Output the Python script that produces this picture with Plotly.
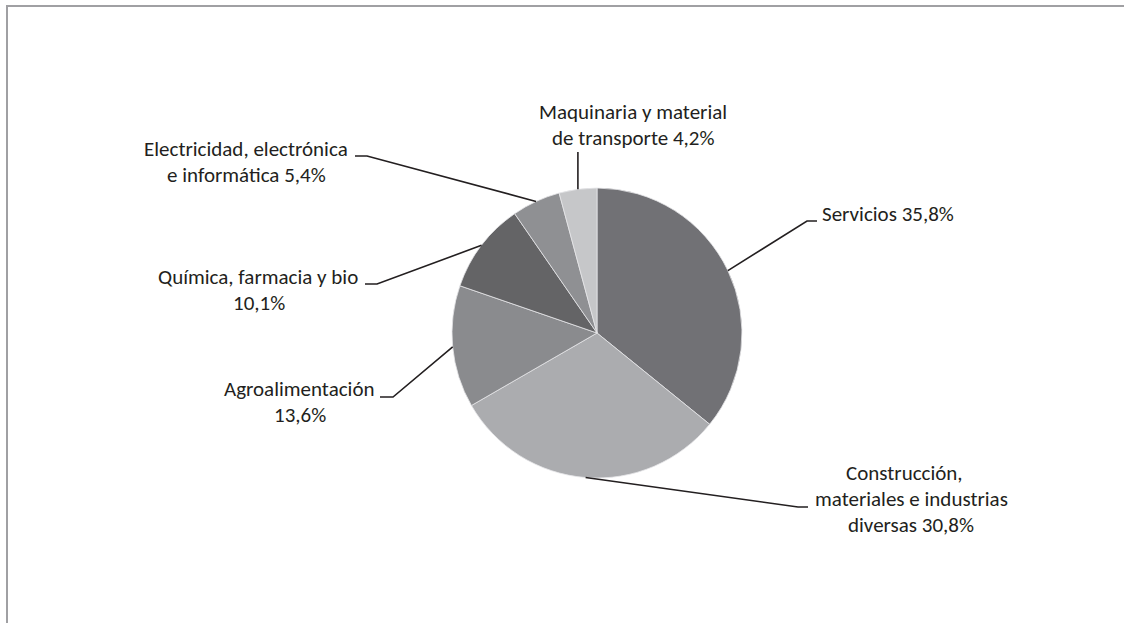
import math
import plotly.graph_objects as go

# Sector shares (%)
sectors = [
    "Servicios",
    "Construcción, materiales e industrias diversas",
    "Agroalimentación",
    "Química, farmacia y bio",
    "Electricidad, electrónica e informática",
    "Maquinaria y material de transporte",
]
shares = [35.8, 30.8, 13.6, 10.1, 5.4, 4.2]
label_lines = [
    ["Servicios {p}"],
    ["Construcción,", "materiales e industrias", "diversas {p}"],
    ["Agroalimentación", "{p}"],
    ["Química, farmacia y bio", "{p}"],
    ["Electricidad, electrónica", "e informática {p}"],
    ["Maquinaria y material", "de transporte {p}"],
]
colors = ["#717175", "#abacaf", "#8a8b8e", "#646466", "#8f9093", "#c6c7c9"]

W, H = 1124, 623
CX, CY, R = 597, 333, 145  # pie centre and radius in pixels
LINE_H = 26                # baseline-to-baseline spacing
FONT = "Calibri, Carlito, Lato, sans-serif"
FONT_SIZE = 21
TEXT_COLOR = "#231f20"

# label layout: (line centre xs, first baseline y, leader elbow x, elbow y, tail x)
label_layout = [
    ([888], 222, 807, 221, 817),
    ([904, 911, 911], 481, 798, 507, 808),
    ([299, 300], 397, 393, 397, 380),
    ([258, 259], 285, 377, 284, 365),
    ([246, 246], 157, 367, 156, 355),
    ([633, 633], 120, None, 152, None),
]


def px(x):
    return x / W


def py(y):
    return 1 - y / H


fig = go.Figure(
    go.Pie(
        labels=sectors,
        values=shares,
        sort=False,
        direction="clockwise",
        rotation=0,
        textinfo="none",
        hoverinfo="label+percent",
        marker=dict(colors=colors, line=dict(color="#e6e6e8", width=0.8)),
        domain=dict(x=[px(CX - R), px(CX + R)], y=[py(CY + R), py(CY - R)]),
        showlegend=False,
    )
)

total = sum(shares)
cum = 0.0
shapes = []
annotations = []
for name_lines, val, lay in zip(label_lines, shares, label_layout):
    mid = (cum + val / 2) / total
    cum += val
    ang = 2 * math.pi * mid
    sx = CX + R * math.sin(ang)
    sy = CY - R * math.cos(ang)
    xs, base, ex, ey, tail = lay
    pct = f"{val:.1f}".replace(".", ",") + "%"

    if ex is None:
        # vertical leader straight up towards the label
        shapes.append(dict(type="line", xref="paper", yref="paper",
                           x0=px(sx), y0=py(sy), x1=px(sx), y1=py(ey),
                           line=dict(color=TEXT_COLOR, width=1.6)))
    else:
        shapes.append(dict(type="path", xref="paper", yref="paper",
                           path=f"M {px(sx)},{py(sy)} L {px(ex)},{py(ey)} L {px(tail)},{py(ey)}",
                           line=dict(color=TEXT_COLOR, width=1.6)))

    for i, (line, lx) in enumerate(zip(name_lines, xs)):
        annotations.append(dict(
            x=px(lx), y=py(base + i * LINE_H - 8), xref="paper", yref="paper",
            xanchor="center", yanchor="middle",
            text=line.format(p=pct), showarrow=False,
            font=dict(family=FONT, size=FONT_SIZE, color=TEXT_COLOR),
        ))

# frame lines along top and left edges
shapes.append(dict(type="line", xref="paper", yref="paper",
                   x0=px(6), y0=py(6), x1=1, y1=py(6),
                   line=dict(color="#a0a0a3", width=2)))
shapes.append(dict(type="line", xref="paper", yref="paper",
                   x0=px(7), y0=py(6), x1=px(7), y1=0,
                   line=dict(color="#a0a0a3", width=2)))

fig.update_layout(
    width=W, height=H,
    margin=dict(l=0, r=0, t=0, b=0),
    paper_bgcolor="white", plot_bgcolor="white",
    shapes=shapes, annotations=annotations,
)

fig.write_html("out.html")
